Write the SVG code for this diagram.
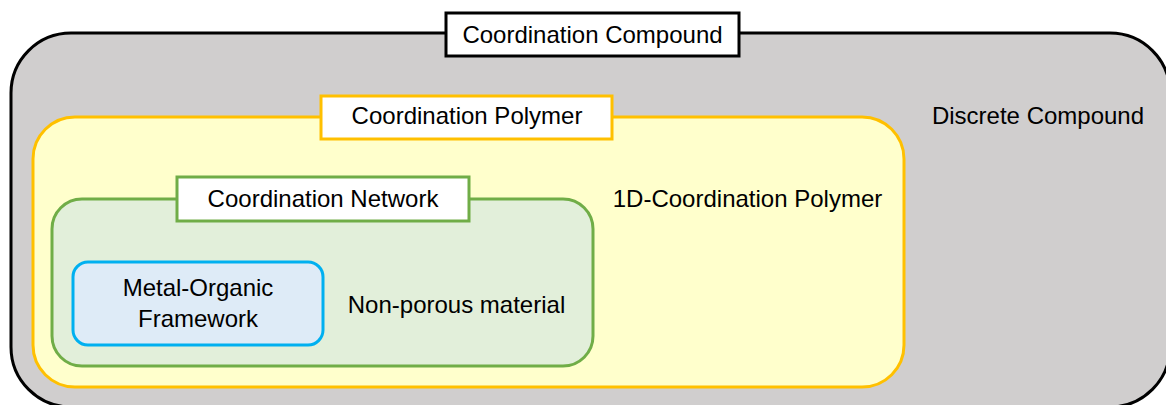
<svg xmlns="http://www.w3.org/2000/svg" width="1166" height="405" viewBox="0 0 1166 405">
<style>
text{font-family:"Liberation Sans",Arial,sans-serif;font-size:24px;fill:#000;text-anchor:middle}
.lbl{fill:#fff;stroke-width:3}
</style>
<rect width="1166" height="405" fill="#fff"/>
<g id="coordination-compound">
<rect x="11" y="33" width="1159" height="374" rx="60" ry="60" fill="#D0CECE" stroke="#000" stroke-width="3"/>
<rect class="lbl" x="446" y="13" width="293" height="43" stroke="#000"/>
<text x="592.5" y="43">Coordination Compound</text>
<text x="1038" y="124">Discrete Compound</text>
</g>
<g id="coordination-polymer">
<rect x="33" y="117" width="871" height="270" rx="42" ry="42" fill="#FFFFCC" stroke="#FFC000" stroke-width="3"/>
<rect class="lbl" x="321" y="96" width="291" height="43" stroke="#FFC000"/>
<text x="467" y="124">Coordination Polymer</text>
<text x="747.5" y="207">1D-Coordination Polymer</text>
</g>
<g id="coordination-network">
<rect x="52" y="199" width="541" height="167" rx="30" ry="30" fill="#E2EFDA" stroke="#70AD47" stroke-width="3"/>
<rect class="lbl" x="177" y="177" width="292" height="44" stroke="#70AD47"/>
<text x="323" y="207">Coordination Network</text>
<text x="456.5" y="313">Non-porous material</text>
</g>
<g id="metal-organic-framework">
<rect x="73" y="262" width="250" height="83" rx="15" ry="15" fill="#DEEBF7" stroke="#00B0F0" stroke-width="3"/>
<text x="198" y="296">Metal-Organic</text>
<text x="198" y="327">Framework</text>
</g>
<g id="connectors"/>
</svg>
